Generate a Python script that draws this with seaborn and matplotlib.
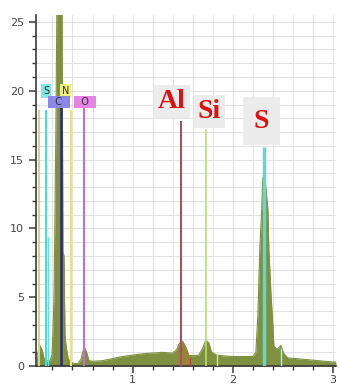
"""
EDS spectrum: olive counts trace with element marker lines
"""

import matplotlib
matplotlib.use("Agg")
import matplotlib.pyplot as plt
from matplotlib.ticker import MultipleLocator
import seaborn as sns

# spectrum (keV, counts)
energy = [0.035, 0.055, 0.075, 0.095, 0.115, 0.135, 0.155, 0.175, 0.195,
          0.205, 0.215, 0.225, 0.235, 0.245, 0.295, 0.305, 0.315, 0.325,
          0.335, 0.355, 0.375, 0.415, 0.455, 0.485, 0.505, 0.525, 0.545,
          0.565, 0.6, 0.7, 0.8, 0.9, 1.0, 1.1, 1.2, 1.3, 1.4, 1.44, 1.47,
          1.50, 1.53, 1.56, 1.60, 1.66, 1.70, 1.73, 1.76, 1.79, 1.84, 1.9,
          2.0, 2.1, 2.2, 2.23, 2.25, 2.27, 2.29, 2.30, 2.32, 2.35, 2.36,
          2.38, 2.40, 2.41, 2.44, 2.48, 2.51, 2.55, 2.7, 2.85, 3.0, 3.03]
counts = [0.5, 1.0, 1.5, 1.2, 0.6, 0.3, 0.4, 0.4, 0.8,
          2.5, 5.0, 11.0, 18.0, 27.0, 27.0, 8.3, 8.0, 2.3,
          1.5, 0.6, 0.3, 0.2, 0.2, 0.5, 1.1, 1.3, 0.9,
          0.4, 0.35, 0.4, 0.55, 0.7, 0.8, 0.9, 0.95, 1.0, 0.95, 1.2, 1.7,
          1.8, 1.4, 0.8, 0.75, 0.8, 1.3, 1.9, 1.7, 1.0, 0.8, 0.75,
          0.7, 0.7, 0.7, 1.0, 3.6, 8.5, 11.6, 13.7, 13.7, 11.4, 8.5,
          5.4, 2.9, 1.5, 1.2, 1.5, 0.9, 0.6, 0.5, 0.4, 0.3, 0.3]

# element marker lines (keV, top in counts)
line_energy = [0.065, 0.135, 0.29, 0.385, 0.515, 1.485, 1.735, 2.31]
line_top = [18.6, 18.6, 18.8, 18.6, 18.8, 17.8, 17.2, 15.9]
line_color = ["#c8d890", "#40dede", "#2c2c6e", "#e6e670", "#c070c8",
              "#a05462", "#b4e070", "#60d8cc"]
line_width = [1.5, 1.5, 1.8, 1.5, 1.5, 1.5, 1.2, 2.5]

# small secondary lines inside the spectrum
minor_energy = [0.155, 1.57, 1.84, 2.48]
minor_top = [9.4, 0.6, 1.0, 1.3]
minor_color = ["#60e0e0", "#c04040", "#c8f080", "#a8f0e0"]

olive = "#7f9040"

sns.set_style("white")
fig = plt.figure(figsize=(3.39, 3.85), dpi=100)
ax = fig.add_axes([0.106, 0.049, 0.885, 0.912])

sns.lineplot(x=energy, y=counts, color=olive, linewidth=0.8, ax=ax,
             zorder=2)
ax.fill_between(energy, counts, color=olive, linewidth=0, zorder=2)

# orange tint under the Al peak
al_e = [e for e in energy if 1.44 <= e <= 1.56]
al_c = [c for e, c in zip(energy, counts) if 1.44 <= e <= 1.56]
ax.fill_between(al_e, al_c, color="#b8742e", alpha=0.45, linewidth=0,
                zorder=2)

ax.vlines(line_energy, 0, line_top, colors=line_color, linewidths=line_width,
          zorder=3)
ax.vlines(minor_energy, 0, minor_top, colors=minor_color, linewidths=1.0,
          zorder=3)

ax.set_xlim(0.035, 3.03)
ax.set_ylim(0, 25.5)
ax.xaxis.set_major_locator(MultipleLocator(1))
ax.xaxis.set_minor_locator(MultipleLocator(0.2))
ax.yaxis.set_major_locator(MultipleLocator(5))
ax.yaxis.set_minor_locator(MultipleLocator(1))
ax.grid(True, which="both", color="#e2e2e2", linewidth=0.8, zorder=0)
ax.set_axisbelow(True)

for side in ["top", "right"]:
    ax.spines[side].set_visible(False)
for side in ["left", "bottom"]:
    ax.spines[side].set_color("#3a3a3a")
    ax.spines[side].set_linewidth(1.2)
ax.tick_params(which="both", direction="out", color="#3a3a3a",
               labelcolor="#474747", labelsize=8, left=True, bottom=True)
ax.tick_params(which="major", length=5, width=1.1)
ax.tick_params(which="minor", length=3, width=1.0)
ax.tick_params(axis="x", pad=1.5)

# small element tags at the top of the low-energy lines
small = dict(fontsize=7, color="#303030", ha="center", va="center",
             zorder=5)
ax.text(0.135, 20.0, "S", bbox=dict(boxstyle="square,pad=0.2",
        fc="#80e6e6", ec="none"), **small)
ax.text(0.33, 20.0, "N", bbox=dict(boxstyle="square,pad=0.2",
        fc="#f0f07a", ec="none"), **small)
ax.text(0.265, 19.2, "  C  ", bbox=dict(boxstyle="square,pad=0.1",
        fc="#8c86e6", ec="none"), **small)
ax.text(0.525, 19.2, "  O  ", bbox=dict(boxstyle="square,pad=0.1",
        fc="#e484e4", ec="none"), **small)

# large red element labels
big = dict(fontsize=20, color="#e01010", fontweight="bold",
           family="Liberation Serif", ha="center", va="center", zorder=5)
box = dict(boxstyle="square,pad=0.15", fc="#ececec", ec="none")
ax.text(1.39, 19.2, "Al", bbox=box, **big)
ax.text(1.765, 18.5, "Si", bbox=box, **big)
ax.text(2.285, 17.8, "S", bbox=dict(boxstyle="square,pad=0.4",
        fc="#ececec", ec="none"), **big)

fig.savefig("out.png", dpi=100)
plt.close(fig)
